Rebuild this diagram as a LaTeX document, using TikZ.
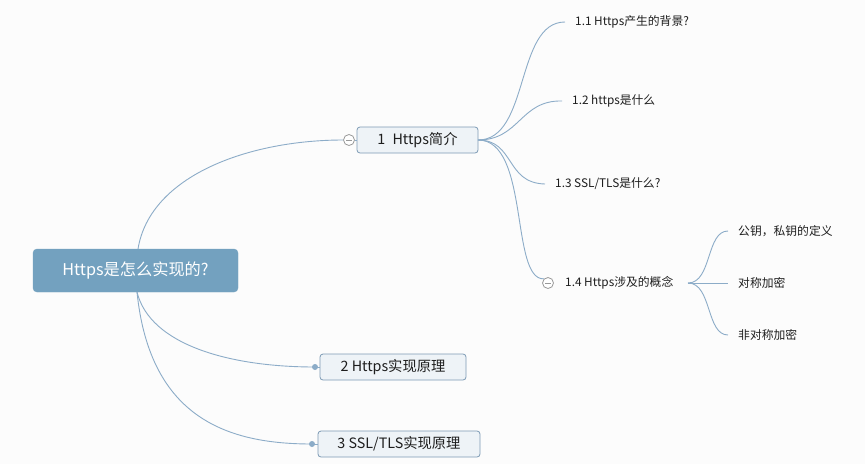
\documentclass[tikz,border=0pt]{standalone}
\usepackage{fontspec}
\setmainfont{Noto Sans CJK SC}
\definecolor{bg}{RGB}{252,252,252}
\definecolor{rootfill}{RGB}{115,161,191}
\definecolor{boxfill}{RGB}{238,243,247}
\definecolor{boxline}{RGB}{125,155,181}
\definecolor{link}{RGB}{140,172,200}
\definecolor{txt}{RGB}{30,30,30}
\tikzset{
  rootbox/.style={fill=rootfill, draw=rootfill, rounded corners=4pt, minimum width=205pt, minimum height=43pt, text=white, font=\fontsize{16.2}{19}\selectfont, inner sep=0pt},
  mainbox/.style={fill=boxfill, draw=boxline, line width=0.8pt, rounded corners=3pt, minimum height=26pt, text=txt, font=\fontsize{14.3}{17}\selectfont, inner sep=0pt},
  leaf/.style={anchor=west, text=txt, font=\fontsize{11.8}{14}\selectfont, inner sep=0pt},
  conn/.style={draw=link, line width=0.9pt},
  toggle/.style={circle, draw=gray!80, fill=white, line width=0.8pt, minimum size=11pt, inner sep=0pt, path picture={\draw[gray!80, line width=0.8pt] ([xshift=-3pt]path picture bounding box.center) -- ([xshift=3pt]path picture bounding box.center);}},
  dotm/.style={circle, fill=link, minimum size=6pt, inner sep=0pt}
}
\begin{document}
\begin{tikzpicture}[x=1pt,y=-1pt]
\fill[bg] (0,0) rectangle (865,464);
\useasboundingbox (0,0) rectangle (865,464);

% root
\node[rootbox] (root) at (135.5,270.5) {Https是怎么实现的?};
\coordinate (rtop) at (138,249);
\coordinate (rbot) at (137,292);

% main nodes
\node[mainbox, minimum width=121pt] (n1) at (417.5,140) {1\enspace Https简介};
\node[toggle] (t1) at (349,140) {};
\node[mainbox, minimum width=146pt] (n2) at (393,367) {2 Https实现原理};
\node[dotm] (d2) at (315,367) {};
\node[mainbox, minimum width=162pt] (n3) at (399,444) {3 SSL/TLS实现原理};
\node[dotm] (d3) at (312,444) {};

\draw[conn] (rtop) .. controls (150,175) and (250,140) .. (t1.west);
\draw[conn] (rbot) .. controls (150,345) and (230,367) .. (d2.center);
\draw[conn] (rbot) .. controls (150,420) and (230,444) .. (d3.center);
\draw[conn] (t1.east) -- (n1.west);
\draw[conn] (d2.center) -- (n2.west);
\draw[conn] (d3.center) -- (n3.west);

% children of 1
\coordinate (n1r) at (478,140);
\node[leaf] (c11) at (575,22) {1.1 Https产生的背景?};
\node[leaf] (c12) at (572,101) {1.2 https是什么};
\node[leaf] (c13) at (555,184) {1.3 SSL/TLS是什么?};
\node[toggle] (t14) at (548,283) {};
\node[leaf] (c14) at (565,283) {1.4 Https涉及的概念};

\draw[conn] (n1r) .. controls (530,140) and (515,22) .. ([xshift=-10pt]c11.west);
\draw[conn] (n1r) .. controls (520,140) and (520,100) .. ([xshift=-10pt]c12.west);
\draw[conn] (n1r) .. controls (515,140) and (505,183) .. ([xshift=-10pt]c13.west);
\draw[conn] (n1r) .. controls (530,140) and (510,280) .. (t14.north west);

% children of 1.4
\coordinate (b14) at (688,283);
\node[leaf] (c141) at (738,231) {公钥，私钥的定义};
\node[leaf] (c142) at (738,283) {对称加密};
\node[leaf] (c143) at (738,335) {非对称加密};
\draw[conn] (b14) .. controls (712,283) and (706,231) .. ([xshift=-10pt]c141.west);
\draw[conn] (b14) -- ([xshift=-10pt]c142.west);
\draw[conn] (b14) .. controls (712,283) and (706,335) .. ([xshift=-10pt]c143.west);
\end{tikzpicture}
\end{document}
